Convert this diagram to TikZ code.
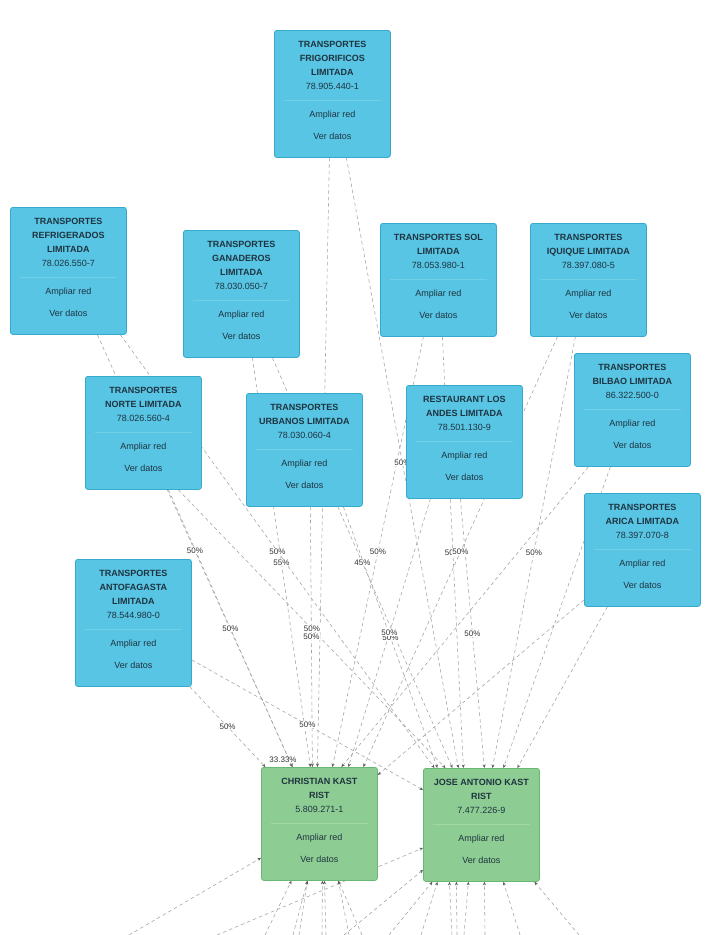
\documentclass[tikz,border=0pt]{standalone}
\usepackage{fontspec}
\setmainfont{Liberation Sans}
\usetikzlibrary{calc,arrows.meta}
\pgfdeclarelayer{edgelayer}
\pgfdeclarelayer{labellayer}
\pgfsetlayers{edgelayer,labellayer,main}
\definecolor{boxfill}{HTML}{57C5E3}
\definecolor{boxline}{HTML}{36AACC}
\definecolor{grnfill}{HTML}{8DCD93}
\definecolor{grnline}{HTML}{69B872}
\definecolor{txt}{HTML}{1F3340}
\definecolor{edgecol}{HTML}{A2A2A2}
\definecolor{sepblue}{HTML}{72CFE8}
\definecolor{sepgrn}{HTML}{A2D7A7}
\tikzset{
 cbox/.style={draw=boxline, fill=boxfill, rounded corners=2.5pt, line width=0.8pt, minimum width=116pt, inner sep=0pt, anchor=north west},
 gbox/.style={cbox, draw=grnline, fill=grnfill},
 sepcbox/.style={draw=sepblue, line width=0.6pt},
 sepgbox/.style={draw=sepgrn, line width=0.6pt},
 ttl/.style={font=\bfseries\fontsize{9}{11}\selectfont, text=txt, anchor=base, inner sep=0pt},
 txtn/.style={font=\fontsize{9}{11}\selectfont, text=txt, anchor=base, inner sep=0pt},
 edge/.style={draw=edgecol, line width=0.55pt, dash pattern=on 3.5pt off 3pt, -{Stealth[length=3.5pt,width=3pt,color=black!65]}},
 lbl/.style={font=\fontsize{8}{9}\selectfont, text=black!80, fill=white, inner sep=0.6pt},
}
\newcommand{\company}[7]{%
 \node[#7, minimum height={85pt+14pt*#4}] (#1) at (#2,#3) {};
 \foreach \tline [count=\i] in {#5} {\node[ttl] (#1-t\i) at ($(#1.north)+(0,{17+14*(\i-1)})$) {\tline};}
 \node[txtn] (#1-r) at ($(#1.north)+(0,{17+14*#4})$) {#6};
 \draw[sep#7] ($(#1.north west)+(10,{28+14*#4})$) coordinate (#1-s1) -- ($(#1.north east)+(-10,{28+14*#4})$) coordinate (#1-s2);
 \node[txtn] (#1-a) at ($(#1.north)+(0,{45+14*#4})$) {Ampliar red};
 \node[txtn] (#1-v) at ($(#1.north)+(0,{67+14*#4})$) {Ver datos};
}
\begin{document}
\begin{tikzpicture}[x=1pt,y=-1pt]
\useasboundingbox (0,0) rectangle (706,935);
\company{frig}{274}{30}{3}{TRANSPORTES,FRIGORIFICOS,LIMITADA}{78.905.440-1}{cbox}
\company{refrig}{10}{207}{3}{TRANSPORTES,REFRIGERADOS,LIMITADA}{78.026.550-7}{cbox}
\company{ganad}{183}{230}{3}{TRANSPORTES,GANADEROS,LIMITADA}{78.030.050-7}{cbox}
\company{sol}{380}{223}{2}{TRANSPORTES SOL,LIMITADA}{78.053.980-1}{cbox}
\company{iquique}{530}{223}{2}{TRANSPORTES,IQUIQUE LIMITADA}{78.397.080-5}{cbox}
\company{bilbao}{574}{353}{2}{TRANSPORTES,BILBAO LIMITADA}{86.322.500-0}{cbox}
\company{norte}{85}{376}{2}{TRANSPORTES,NORTE LIMITADA}{78.026.560-4}{cbox}
\company{urbanos}{246}{393}{2}{TRANSPORTES,URBANOS LIMITADA}{78.030.060-4}{cbox}
\company{restaurant}{406}{385}{2}{RESTAURANT LOS,ANDES LIMITADA}{78.501.130-9}{cbox}
\company{arica}{584}{493}{2}{TRANSPORTES,ARICA LIMITADA}{78.397.070-8}{cbox}
\company{antof}{75}{559}{3}{TRANSPORTES,ANTOFAGASTA,LIMITADA}{78.544.980-0}{cbox}
\company{chris}{261}{767}{2}{CHRISTIAN KAST,RIST}{5.809.271-1}{gbox}
\company{jose}{423}{768}{2}{JOSE ANTONIO KAST,RIST}{7.477.226-9}{gbox}
\begin{pgfonlayer}{edgelayer}
\fill[white] (0,0) rectangle (706,935);
% edges from companies
\draw[edge] ($(refrig.south)+(29,0)$) -- coordinate (m1) ($(chris.north)+(-27,0)$);
\draw[edge] ($(refrig.south)+(52,0)$) -- coordinate (m2) ($(jose.north)+(-47,0)$);
\draw[edge] ($(norte.south)+(25,0)$) -- coordinate (m3) ($(chris.north)+(-27,0)$);
\draw[edge] ($(norte.south)+(35,0)$) -- coordinate (m4) ($(jose.north)+(-36,0)$);
\draw[edge] ($(ganad.south)+(11,0)$) -- coordinate (m5) ($(chris.north)+(-9,0)$);
\draw[edge] ($(ganad.south)+(31,0)$) -- coordinate (m6) ($(jose.north)+(-29,0)$);
\draw[edge] ($(frig.south)+(-3,0)$) -- ($(chris.north)+(-2,0)$);
\draw[edge] ($(frig.south)+(14,0)$) -- coordinate (m8) ($(jose.north)+(-23,0)$);
\draw[edge] ($(sol.south)+(-15,0)$) -- coordinate (m9) ($(chris.north)+(13,0)$);
\draw[edge] ($(sol.south)+(4,0)$) -- coordinate (m10) ($(jose.north)+(-18,0)$);
\draw[edge] ($(iquique.south)+(-31,0)$) -- coordinate (m11) ($(chris.north)+(44,0)$);
\draw[edge] ($(iquique.south)+(-13,0)$) -- coordinate (m12) ($(jose.north)+(11,0)$);
\draw[edge] ($(urbanos.south)+(6,0)$) -- coordinate (m13) ($(chris.north)+(-7,0)$);
\draw[edge] ($(urbanos.south)+(39,0)$) -- coordinate (m14) ($(jose.north)+(-44,0)$);
\draw[edge] ($(restaurant.south)+(-34,0)$) -- coordinate (m15) ($(chris.north)+(29,0)$);
\draw[edge] ($(restaurant.south)+(-4,0)$) -- coordinate (m16) ($(jose.north)+(3,0)$);
\draw[edge] ($(antof.south east)+(-2,0)$) -- coordinate (m17) ($(chris.north)+(-54,0)$);
\draw[edge] ($(antof.east)+(0,37)$) -- coordinate (m18) ($(jose.west)+(0,-35)$);
\draw[edge] ($(bilbao.south)+(-44,0)$) -- ($(chris.north)+(22,0)$);
\draw[edge] ($(bilbao.south)+(-22,0)$) -- ($(jose.north)+(22,0)$);
\draw[edge] ($(arica.west)+(0,50)$) -- ($(chris.north east)+(0,8)$);
\draw[edge] ($(arica.south)+(-35,0)$) -- ($(jose.north)+(36,0)$);
% edges from nodes below the view
\coordinate (b1) at (129,935);
\coordinate (b2) at (217,935);
\coordinate (b3) at (344,935);
\coordinate (b4) at (265,935);
\coordinate (b5) at (293,935);
\coordinate (b6) at (299,935);
\coordinate (b7) at (322,935);
\coordinate (b8) at (326,935);
\coordinate (b9) at (349,935);
\coordinate (b10) at (362,935);
\coordinate (b11) at (389,935);
\coordinate (b12) at (421,935);
\coordinate (b13) at (452,935);
\coordinate (b14) at (457,935);
\coordinate (b15) at (464,935);
\coordinate (b16) at (485,935);
\coordinate (b17) at (520,935);
\coordinate (b18) at (579,935);
\draw[edge] (b1) -- ($(chris.west)+(0,34)$);
\draw[edge] (b2) -- ($(jose.west)+(0,23)$);
\draw[edge] (b3) -- ($(jose.west)+(0,45)$);
\draw[edge] (b4) -- ($(chris.south)+(-28,0)$);
\draw[edge] (b5) -- ($(chris.south)+(-12,0)$);
\draw[edge] (b6) -- ($(chris.south)+(-12,0)$);
\draw[edge] (b7) -- ($(chris.south)+(3,0)$);
\draw[edge] (b8) -- ($(chris.south)+(5,0)$);
\draw[edge] (b9) -- ($(chris.south)+(19,0)$);
\draw[edge] (b10) -- ($(chris.south)+(19,0)$);
\draw[edge] (b11) -- ($(jose.south)+(-49,0)$);
\draw[edge] (b12) -- ($(jose.south)+(-44,0)$);
\draw[edge] (b13) -- ($(jose.south)+(-32,0)$);
\draw[edge] (b14) -- ($(jose.south)+(-25,0)$);
\draw[edge] (b15) -- ($(jose.south)+(-13,0)$);
\draw[edge] (b16) -- ($(jose.south)+(3,0)$);
\draw[edge] (b17) -- ($(jose.south)+(22,0)$);
\draw[edge] (b18) -- ($(jose.south)+(53,0)$);
\end{pgfonlayer}
\begin{pgfonlayer}{labellayer}
\node[lbl] (l1) at (m1) {50\%};
\node[lbl] (l2) at (m2) {50\%};
\node[lbl] (l3) at (m3) {50\%};
\node[lbl] (l4) at (m4) {50\%};
\node[lbl] (l5) at (m5) {55\%};
\node[lbl] (l6) at (m6) {45\%};
\node[lbl] (l8) at (m8) {50\%};
\node[lbl] (l9) at (m9) {50\%};
\node[lbl] (l10) at (m10) {50\%};
\node[lbl] (l11) at (m11) {50\%};
\node[lbl] (l12) at (m12) {50\%};
\node[lbl] (l13) at (m13) {50\%};
\node[lbl] (l14) at (m14) {50\%};
\node[lbl] (l15) at (m15) {50\%};
\node[lbl] (l16) at (m16) {50\%};
\node[lbl] (l17) at (m17) {50\%};
\node[lbl] (l18) at (m18) {50\%};
\node[lbl] (l33) at (283,760) {33.33\%};
\end{pgfonlayer}
\end{tikzpicture}
\end{document}
